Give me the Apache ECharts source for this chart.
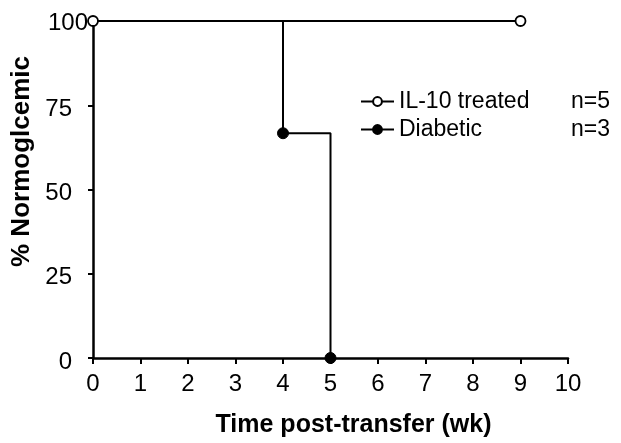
<html>
<head>
<meta charset="utf-8">
<script src="https://cdn.jsdelivr.net/npm/echarts@6/dist/echarts.min.js"></script>
<style>
  html, body { margin: 0; padding: 0; background: #fff; }
  #main { width: 621px; height: 443px; }
</style>
</head>
<body>
<div id="main"></div>
<script>

var xTicks = [0, 1, 2, 3, 4, 5, 6, 7, 8, 9, 10];
var yTicks = [0, 25, 50, 75, 100];

// [week, % normoglycemic]
var il10Data = [[0, 100], [9, 100]];
var diabeticData = [[0, 100], [4, 66.7], [5, 0]];

var seriesNames = ['IL-10 treated', 'Diabetic'];
var groupSizes = ['n=5', 'n=3'];

var myChart = echarts.init(document.getElementById('main'));

var font = 'Liberation Sans, Arial, sans-serif';

var option = {
    backgroundColor: '#fff',
    animation: false,
    textStyle: { fontFamily: font, color: '#000' },
    grid: {
        left: 93,
        right: 53,
        top: 21,
        bottom: 85
    },
    legend: {
        data: seriesNames,
        orient: 'vertical',
        left: 355,
        top: 85,
        itemGap: 5,
        itemWidth: 33,
        itemHeight: 11,
        formatter: function (name) {
            return '{a|' + name + '}{b|' + groupSizes[seriesNames.indexOf(name)] + '}';
        },
        textStyle: {
            fontFamily: font,
            rich: {
                a: { fontSize: 23, lineHeight: 23, width: 172, color: '#000', fontFamily: font },
                b: { fontSize: 23, lineHeight: 23, color: '#000', fontFamily: font }
            }
        }
    },
    xAxis: {
        type: 'value',
        min: 0,
        max: 10,
        interval: 1,
        name: 'Time post-transfer (wk)',
        nameLocation: 'middle',
        nameGap: 55,
        nameTextStyle: {
            fontSize: 25, fontWeight: 'bold', color: '#000', fontFamily: font,
            padding: [0, 0, 0, 46]
        },
        axisLine: { lineStyle: { color: '#000', width: 2.5 } },
        axisTick: { show: true, length: 6, lineStyle: { color: '#000', width: 2 } },
        axisLabel: { fontSize: 24, color: '#000', margin: 14, fontFamily: font },
        splitLine: { show: false }
    },
    yAxis: {
        type: 'value',
        min: 0,
        max: 100,
        interval: 25,
        name: '% Normoglcemic',
        nameLocation: 'middle',
        nameGap: 54,
        nameTextStyle: {
            fontSize: 26, fontWeight: 'bold', color: '#000', fontFamily: font,
            padding: [0, 0, 0, 56]
        },
        axisLine: { show: true, lineStyle: { color: '#000', width: 2.5 } },
        axisTick: { show: true, length: 5, lineStyle: { color: '#000', width: 2 } },
        axisLabel: {
            margin: 5,
            formatter: function (v) {
                return v === 100 ? '{t|' + v + '}' : '{v|' + v + '}';
            },
            rich: {
                t: { fontSize: 24, color: '#000', fontFamily: font, padding: [4, 0, 0, 0] },
                v: { fontSize: 24, color: '#000', fontFamily: font, padding: [8, 16, 0, 0] }
            }
        },
        splitLine: { show: false }
    },
    series: [
        {
            name: 'Diabetic',
            type: 'line',
            step: 'end',
            data: diabeticData.map(function (d, i) {
                return i === 0 ? { value: d, symbol: 'none' } : d;
            }),
            symbol: 'circle',
            symbolSize: 11,
            lineStyle: { color: '#000', width: 2 },
            itemStyle: { color: '#000', borderColor: '#000', borderWidth: 1 }
        },
        {
            name: 'IL-10 treated',
            type: 'line',
            data: il10Data,
            symbol: 'circle',
            symbolSize: 10,
            z: 3,
            lineStyle: { color: '#000', width: 2 },
            itemStyle: { color: '#fff', borderColor: '#000', borderWidth: 1.8 }
        }
    ]
};

myChart.setOption(option);

</script>
</body>
</html>
